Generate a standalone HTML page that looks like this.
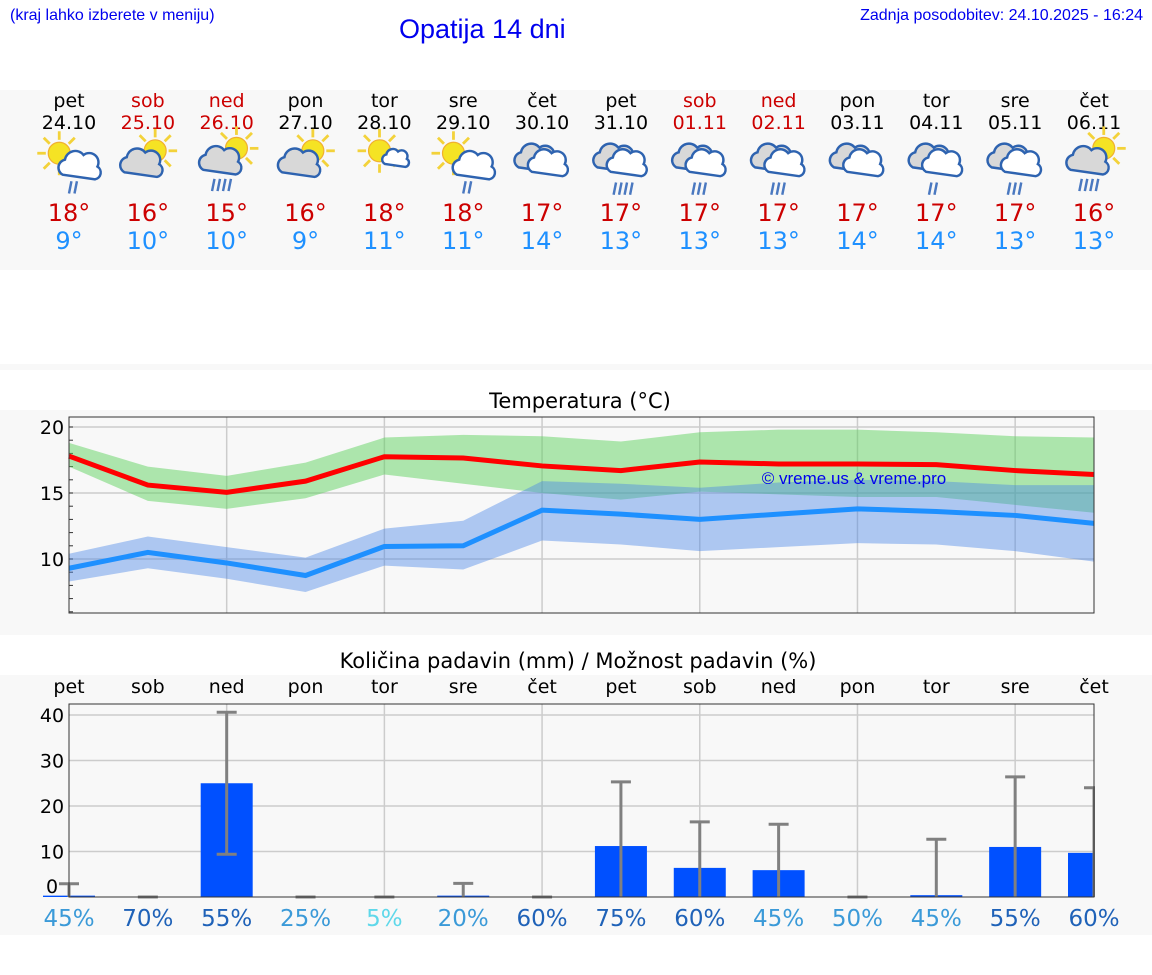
<!DOCTYPE html>
<html><head><meta charset="utf-8"><style>
body{margin:0;width:1152px;height:975px;background:#fff;position:relative;overflow:hidden;font-family:"DejaVu Sans",sans-serif}
.abs{position:absolute}
</style></head><body>
<div class="abs" style="left:10px;top:7px;font:16px 'Liberation Sans',sans-serif;color:#0000ee">(kraj lahko izberete v meniju)</div>
<div class="abs" style="left:399px;top:14px;font:27px 'Liberation Sans',sans-serif;color:#0000ee">Opatija 14 dni</div>
<div class="abs" style="right:9px;top:7px;font:16px 'Liberation Sans',sans-serif;color:#0000ee">Zadnja posodobitev: 24.10.2025 - 16:24</div>
<svg id="svg" width="1152" height="975" style="position:absolute;left:0;top:0"></svg>
<script>
const days=['pet','sob','ned','pon','tor','sre','čet','pet','sob','ned','pon','tor','sre','čet'];
const dates=['24.10','25.10','26.10','27.10','28.10','29.10','30.10','31.10','01.11','02.11','03.11','04.11','05.11','06.11'];
const weekend=[0,1,1,0,0,0,0,0,1,1,0,0,0,0];
const icons=['sr2','sc','scr4','sc','ss','sr2','cc','ccr4','ccr3','ccr3','cc','ccr2','ccr3','scr4'];
const hiLabel=[18,16,15,16,18,18,17,17,17,17,17,17,17,16];
const loLabel=[9,10,10,9,11,11,14,13,13,13,14,14,13,13];
const tMax=[17.8,15.6,15.05,15.9,17.75,17.65,17.05,16.7,17.35,17.2,17.2,17.15,16.7,16.4];
const tMaxHi=[18.8,17.0,16.3,17.3,19.2,19.4,19.3,18.9,19.6,19.8,19.8,19.6,19.3,19.2];
const tMaxLo=[17.0,14.4,13.8,14.6,16.4,15.7,15.0,14.5,15.1,14.9,14.7,14.7,14.1,13.5];
const tMin=[9.3,10.5,9.7,8.75,10.95,11.0,13.7,13.4,13.0,13.4,13.8,13.6,13.3,12.7];
const tMinHi=[10.4,11.7,10.9,10.1,12.3,12.9,15.9,15.7,15.4,15.8,16.0,15.9,15.6,15.6];
const tMinLo=[8.3,9.3,8.5,7.5,9.5,9.2,11.4,11.1,10.6,10.9,11.2,11.1,10.6,9.8];
const tTicks=[10,15,20];
const rain=[0.3,0,25,0,0,0.3,0,11.2,6.4,5.9,0,0.4,11,9.7];
const rainHi=[2.9,0,40.6,0,0,3,0,25.3,16.5,16,0,12.7,26.4,24];
const rainLo=[0,0,9.4,0,0,0,0,0,0,0,0,0,0,0];
const prob=[45,70,55,25,5,20,60,75,60,45,50,45,55,60];
const rTicks=[0,10,20,30,40];

const S=document.getElementById('svg');const NS='http://www.w3.org/2000/svg';
function el(t,a,p){const e=document.createElementNS(NS,t);for(const k in a)e.setAttribute(k,a[k]);(p||S).appendChild(e);return e;}
function tx(x,y,s,a){const e=el('text',Object.assign({x:x,y:y,'text-anchor':'middle','font-family':'DejaVu Sans, sans-serif'},a));e.textContent=s;return e;}
const X0=69,X1=1094,dx=(X1-X0)/13;const xc=i=>X0+i*dx;
el('rect',{x:0,y:90,width:1152,height:180,fill:'#f8f8f8'});
el('rect',{x:0,y:364,width:1152,height:6,fill:'#f8f8f8'});
el('rect',{x:0,y:410,width:1152,height:225,fill:'#f8f8f8'});
el('rect',{x:0,y:675,width:1152,height:260,fill:'#f8f8f8'});
function icon(g,t){
  const cloud=(ox,oy,fill,sc)=>{el('path',{d:`M${ox-16*sc},${oy+8*sc} a${7*sc},${7*sc} 0 0 1 ${2*sc},${-13*sc} a${9*sc},${9*sc} 0 0 1 ${16*sc},${-4*sc} a${8*sc},${8*sc} 0 0 1 ${12*sc},${10*sc} a${6*sc},${6*sc} 0 0 1 ${-2*sc},${11*sc} z`,fill:fill,stroke:'#2e63b0','stroke-width':2},g);};
  const sun=(ox,oy,r)=>{for(let k=0;k<8;k++){const a=k*Math.PI/4;el('line',{x1:ox+Math.cos(a)*(r+2),y1:oy+Math.sin(a)*(r+2),x2:ox+Math.cos(a)*(r+9),y2:oy+Math.sin(a)*(r+9),stroke:'#f3d23a','stroke-width':2.3},g);}el('circle',{cx:ox,cy:oy,r:r,fill:'#f5e324',stroke:'#f0b030','stroke-width':1},g);};
  const drops=(ox,oy,n)=>{for(let k=0;k<n;k++)el('line',{x1:ox+k*4.5+2,y1:oy,x2:ox+k*4.5,y2:oy+10,stroke:'#4a78c0','stroke-width':2},g);};
  if(t==='sr2'){sun(-8,-8,9);cloud(10,2,'#fff',0.95);drops(0,15,2);}
  else if(t==='sc'){sun(6,-10,9);cloud(-4,0,'#d8d8d8',0.95);}
  else if(t==='scr4'){sun(8,-12,9);cloud(-4,-2,'#d8d8d8',0.95);drops(-12,13,4);}
  else if(t==='ss'){sun(-4,-10,9);cloud(10,-4,'#fff',0.6);}
  else{cloud(-4,-4,'#d8d8d8',0.95);cloud(6,0,'#fff',0.9);if(t!=='cc')drops(-6,16,+t.slice(3));}
}
for(let i=0;i<14;i++){
  const x=xc(i);const col=weekend[i]?'#cc0000':'#000';
  const d=tx(x,107,days[i],{'font-size':19,fill:col});
  
  
  const dt=tx(x,129,dates[i],{'font-size':19,fill:col});
  
  
  const g=el('g',{transform:`translate(${x},163) scale(1.22)`});
  
  
  icon(g,icons[i]);
  const h=tx(x,221,hiLabel[i]+'°',{'font-size':24,fill:'#cc0000'});
  
  
  const l=tx(x,249,loLabel[i]+'°',{'font-size':24,fill:'#1e90ff'});
  
  
}
const TY0=417,TY1=613;const ty=v=>559-(v-10)*13.2;
const tt=tx(580,408,'Temperatura (°C)',{'font-size':21,fill:'#000'});


for(const i of [2,4,6,8,10,12])el('line',{x1:xc(i),y1:TY0,x2:xc(i),y2:TY1,stroke:'#ccc','stroke-width':1.5});
for(const v of tTicks){el('line',{x1:X0,y1:ty(v),x2:X1,y2:ty(v),stroke:'#ccc','stroke-width':1.5});
  const t=tx(52,ty(v)+7,String(v),{'font-size':19,fill:'#000'});}
for(let v=6;v<=20;v++)el('line',{x1:X0,y1:ty(v),x2:X0+4,y2:ty(v),stroke:'#333','stroke-width':1});
function band(hi,lo,fill,name){let d='M'+hi.map((v,i)=>xc(i)+','+ty(v)).join('L')+'L'+lo.map((v,i)=>xc(i)+','+ty(v)).reverse().join('L')+'Z';
  const p=el('path',{d:d,fill:fill});}
function line(a,c,name){const p=el('polyline',{points:a.map((v,i)=>xc(i)+','+ty(v)).join(' '),fill:'none',stroke:c,'stroke-width':5});}
band(tMaxHi,tMaxLo,'rgba(90,210,90,0.48)','max-temp-range');
band(tMinHi,tMinLo,'rgba(70,130,230,0.42)','min-temp-range');
line(tMax,'#ff0000','max-temp-line');line(tMin,'#1e90ff','min-temp-line');
const cp=el('text',{x:854,y:484,'text-anchor':'middle','font-family':'Liberation Sans, sans-serif','font-size':17,fill:'#0000ee'});cp.textContent='© vreme.us & vreme.pro';


el('rect',{x:X0,y:TY0,width:X1-X0,height:TY1-TY0,fill:'none',stroke:'#333','stroke-width':1});
const RY0=704,RY1=897;const ry=v=>897-v*4.55;
const rt=tx(578,668,'Količina padavin (mm) / Možnost padavin (%)',{'font-size':21,fill:'#000'});


for(let i=0;i<14;i++){const t=tx(xc(i),693,days[i],{'font-size':19,fill:'#000'});}
for(const i of [2,4,6,8,10,12])el('line',{x1:xc(i),y1:RY0,x2:xc(i),y2:RY1,stroke:'#ccc','stroke-width':1.5});
for(const v of rTicks){if(v>0)el('line',{x1:X0,y1:ry(v),x2:X1,y2:ry(v),stroke:'#ccc','stroke-width':1.5});
  const yy=Math.min(Math.max(ry(v)+7,711),893);
  const t=tx(52,yy,String(v),{'font-size':19,fill:'#000'});}
for(let i=0;i<14;i++){const x=xc(i);
  if(rain[i]>0){const b=el('rect',{x:x-26,y:ry(rain[i]),width:52,height:ry(0)-ry(rain[i]),fill:'#0050ff'});}
  const g=el('g',{stroke:'#808080','stroke-width':3});
  el('line',{x1:x,y1:ry(rainHi[i]),x2:x,y2:ry(rainLo[i])},g);
  el('line',{x1:x-10,y1:ry(rainHi[i]),x2:x+10,y2:ry(rainHi[i])},g);
  if(rainLo[i]>0)el('line',{x1:x-10,y1:ry(rainLo[i]),x2:x+10,y2:ry(rainLo[i])},g);
  const p=prob[i];const c=p<10?'#5fd8ea':(p<55?'#3b9ad8':'#1f62b8');
  const t=tx(x,926,p+'%',{'font-size':23,fill:c});
}
el('rect',{x:X0,y:RY0,width:X1-X0,height:RY1-RY0,fill:'none',stroke:'#333','stroke-width':1});
el('rect',{x:X1+1,y:RY0-2,width:60,height:RY1-RY0+4,fill:'#f8f8f8'});
</script>
</body></html>
